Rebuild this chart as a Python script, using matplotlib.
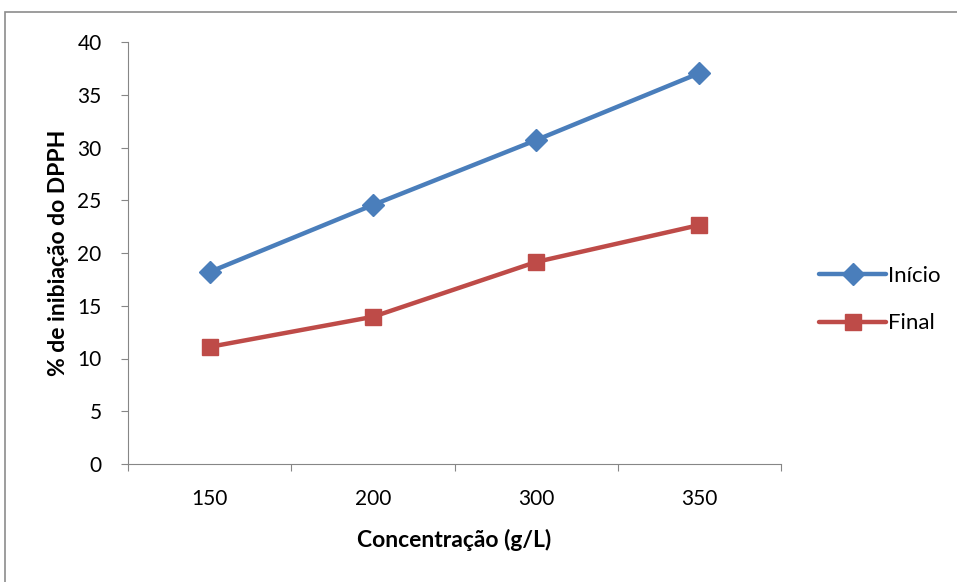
import matplotlib
matplotlib.use("Agg")
import matplotlib.pyplot as plt
from matplotlib.patches import Rectangle

# data
concentracao = ["150", "200", "300", "350"]
inicio = [18.2, 24.55, 30.7, 37.05]
final = [11.1, 13.95, 19.15, 22.65]

plt.rcParams['font.family'] = ['Lato', 'DejaVu Sans']

fig = plt.figure(figsize=(9.57, 5.82), dpi=100)
# outer chart border (Excel chart area)
fig.patches.append(Rectangle((5 / 957, -0.05), 1.1, 1 - 12 / 582 + 0.05,
                             transform=fig.transFigure, fill=False,
                             edgecolor='#8c8c8c', lw=1.2))

ax = fig.add_axes([128 / 957, 118 / 582, 653 / 957, 422 / 582])
x = list(range(len(concentracao)))
ax.plot(x, inicio, color='#4A7EBB', lw=3.2, marker='D', markersize=11,
        label='Início', solid_capstyle='round')
ax.plot(x, final, color='#BE4B48', lw=3.2, marker='s', markersize=12,
        label='Final', solid_capstyle='round')

ax.set_xlim(-0.5, len(concentracao) - 0.5)
ax.set_ylim(0, 40)
ax.set_yticks(range(0, 41, 5))
ax.set_xticks([i - 0.5 for i in range(len(concentracao) + 1)])
ax.set_xticklabels([])
ax.set_xticks(x, minor=True)
ax.set_xticklabels(concentracao, minor=True)
ax.tick_params(axis='x', which='major', length=5, color='#868686')
ax.tick_params(axis='x', which='minor', length=0, pad=18, labelsize=15)
ax.tick_params(axis='y', length=5, color='#868686', labelsize=15, pad=14)

for s in ['top', 'right']:
    ax.spines[s].set_visible(False)
for s in ['left', 'bottom']:
    ax.spines[s].set_color('#868686')

ax.set_xlabel('Concentração (g/L)', fontsize=16.5, fontweight='bold', labelpad=14)
ax.set_ylabel('% de inibiação do DPPH', fontsize=16.5, fontweight='bold', labelpad=6)

ax.legend(loc='center left', bbox_to_anchor=(1.045, 0.39), frameon=False,
          fontsize=16, handlelength=3.0, handletextpad=0.1, labelspacing=1.25,
          borderaxespad=0)

fig.savefig('out.png', dpi=100)
